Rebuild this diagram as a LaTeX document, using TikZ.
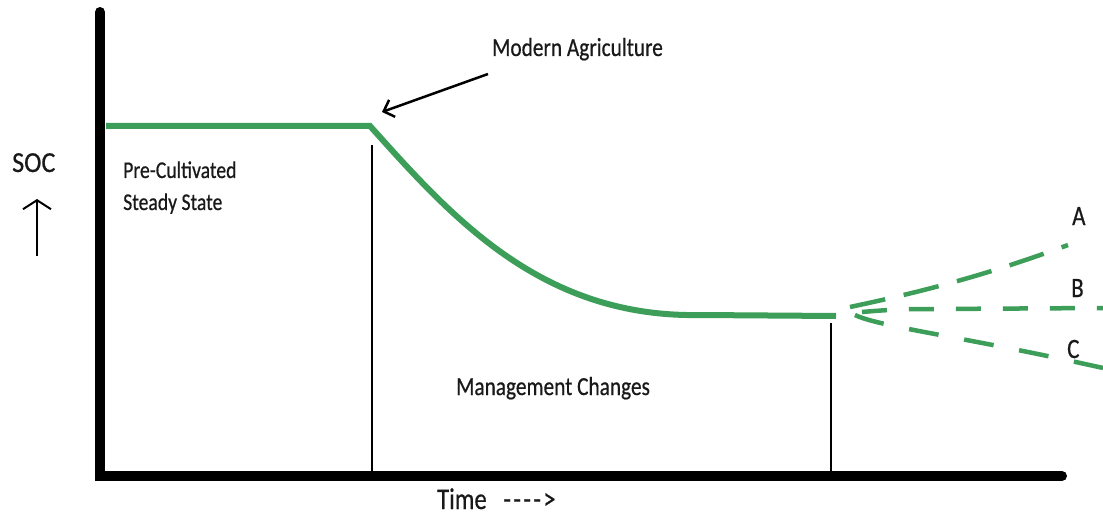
\documentclass[tikz,border=0pt]{standalone}
\usepackage{fontspec}
\setmainfont{Carlito}[FakeBold=0.6]
\usepackage{graphicx}
\usetikzlibrary{arrows.meta}
\definecolor{soc}{RGB}{60,158,88}
\definecolor{ink}{RGB}{25,25,25}
\newcommand{\nar}[1]{\scalebox{0.82}[1]{#1}}
\newcommand{\hy}{-\kern3pt}
\begin{document}
\begin{tikzpicture}[x=1pt,y=-1pt,
  axis/.style={line width=10pt, line cap=round},
  tick/.style={line width=2.8pt},
  soil/.style={draw=soc, line width=6pt},
  branchline/.style={draw=soc, line width=4.5pt},
  lbl/.style={inner sep=0pt, text=ink, anchor=base west},
  pointer/.style={line width=2.5pt, -{Straight Barb[length=9pt,width=18pt]}},
]
\useasboundingbox[fill=white] (0,0) rectangle (1103,516);
% axes
\coordinate (top) at (100,12);
\coordinate (origin) at (100,476);
\coordinate (xend) at (1062,476);
\draw[axis] (top) -- (origin) -- (xend);
% SOC curve
\coordinate (s0) at (106,126);
\coordinate (s1) at (370,126);
\coordinate (s2) at (700,315);
\coordinate (s3) at (836,316);
\draw[soil] (s0) -- (s1) .. controls (450,215) and (540,318) .. (s2) -- (s3);
% vertical markers
\coordinate (t1top) at (372,145);
\coordinate (t1bot) at (372,472);
\draw[tick] (t1top) -- (t1bot);
\coordinate (t2top) at (831,323);
\coordinate (t2bot) at (831,472);
\draw[tick] (t2top) -- (t2bot);
% branches
\coordinate (brA) at (850,307);
\coordinate (endA) at (1068,245);
\draw[branchline, dash pattern=on 36pt off 19pt] (brA) .. controls (940,288) and (1000,270) .. (endA);
\coordinate (brB) at (862,312);
\coordinate (endB) at (1103,308);
\draw[branchline, dash pattern=on 25pt off 22pt] (brB) to[out=5,in=180] (935,309) -- (endB);
\coordinate (brC) at (855,315);
\coordinate (endC) at (1103,368);
\draw[branchline, dash pattern=on 30pt off 26pt] (brC) .. controls (880,327) and (960,336) .. (endC);
% labels
\node[lbl, font=\fontsize{26}{30}\selectfont] (modag) at (492,56) {\nar{Modern Agriculture}};
\coordinate (arrtail) at (488,74);
\coordinate (arrtip) at (382,112);
\draw[pointer] (arrtail) -- (arrtip);
\node[lbl, font=\fontsize{29}{32}\selectfont] (soclbl) at (12,172) {\scalebox{0.9}[1]{SOC}};
\coordinate (upb) at (37,256);
\coordinate (upt) at (37,199);
\draw[line width=2pt, -{Straight Barb[length=9pt,width=28pt]}] (upb) -- (upt);
\node[lbl, font=\fontsize{24}{30}\selectfont] (preA) at (123,178) {\nar{Pre-Cultivated}};
\node[lbl, font=\fontsize{24}{30}\selectfont] (preB) at (123,210) {\nar{Steady State}};
\node[lbl, font=\fontsize{26}{30}\selectfont] (mgmt) at (456,395) {\nar{Management Changes}};
\node[lbl, font=\fontsize{30}{34}\selectfont] (time) at (437,509) {\nar{Time\ \ \ \hy\hy\hy\hy>}};
\node[lbl, font=\fontsize{28}{32}\selectfont] (labA) at (1072,225) {\nar{A}};
\node[lbl, font=\fontsize{28}{32}\selectfont] (labB) at (1071,297) {\nar{B}};
\node[lbl, font=\fontsize{28}{32}\selectfont] (labC) at (1067,358) {\nar{C}};
\end{tikzpicture}
\end{document}
